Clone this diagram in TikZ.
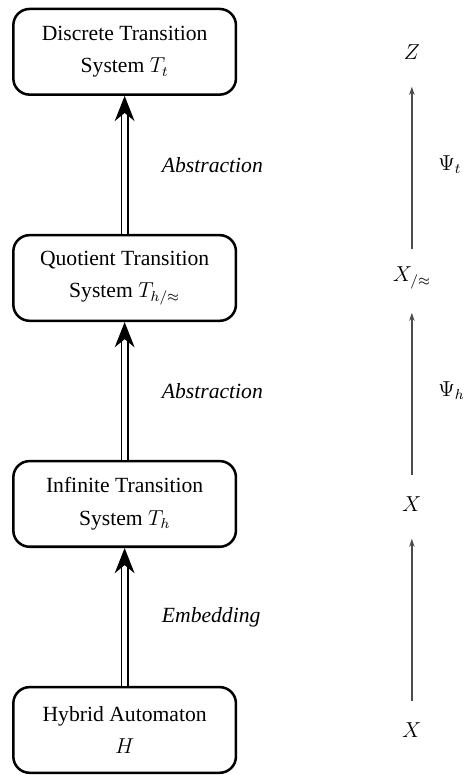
\documentclass[tikz,border=0pt]{standalone}
\usepackage{fontspec}
\setmainfont{Liberation Serif}
\usetikzlibrary{arrows.meta}

\begin{document}
\begin{tikzpicture}[
    font=\large,
    sysbox/.style={draw, line width=1.4pt, rounded corners=9pt, align=center,
        minimum width=4.34cm, minimum height=1.67cm},
    refine/.style={double, double distance=3pt, line width=0.7pt,
        -{Stealth[length=14pt, width=11pt]}},
    spacelabel/.style={inner sep=0pt, minimum height=1.1cm},
    maparrow/.style={draw=black!70, line width=0.7pt,
        -{Stealth[length=4.5pt, width=3pt]}, shorten >=3.5pt}
]
    \useasboundingbox (0, 0) rectangle (9.11, 15.11);

    % Transition systems
    \node[sysbox] (hyb) at (2.43, 0.878) {Hybrid Automaton\\[4pt] $H$};
    \node[sysbox] (inf) at (2.43, 5.285) {Infinite Transition\\[4pt] System $T_h$};
    \node[sysbox] (quo) at (2.43, 9.69) {Quotient Transition\\[4pt] System $T_{h/\approx}$};
    \node[sysbox] (dis) at (2.43, 14.10) {Discrete Transition\\[4pt] System $T_t$};

    % Refinement arrows
    \draw[refine] (hyb) -- (inf) node[midway, right=17pt] {\textit{Embedding}};
    \draw[refine] (inf) -- (quo) node[midway, right=17pt] {\textit{Abstraction}};
    \draw[refine] (quo) -- (dis) node[midway, right=17pt] {\textit{Abstraction}};

    % State spaces
    \node[spacelabel] (xh) at (8.03, 0.878) {$X$};
    \node[spacelabel] (xi) at (8.03, 5.285) {$X$};
    \node[spacelabel] (xq) at (8.03, 9.69) {$X_{/\approx}$};
    \node[spacelabel] (zd) at (8.03, 14.10) {$Z$};

    % Maps between state spaces
    \draw[maparrow] (xh) -- (xi);
    \draw[maparrow] (xi) -- (xq) node[midway, right=11pt] {$\Psi_h$};
    \draw[maparrow] (xq) -- (zd) node[midway, right=11pt] {$\Psi_t$};
\end{tikzpicture}
\end{document}
